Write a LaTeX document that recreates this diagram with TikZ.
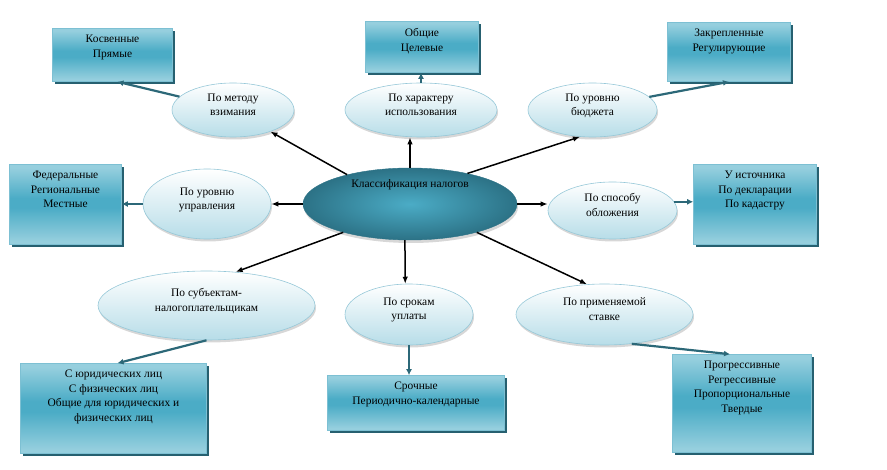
\documentclass[tikz,border=0pt]{standalone}
\usepackage{fontspec}
\setmainfont{Liberation Serif}
\usetikzlibrary{arrows.meta}
\usetikzlibrary{shapes, shadows}

\definecolor{boxlight}{RGB}{150,207,222}
\definecolor{boxmid}{RGB}{75,172,198}
\definecolor{boxline}{RGB}{125,192,211}
\definecolor{boxshadow}{RGB}{38,96,112}
\definecolor{ellbottom}{RGB}{183,221,232}
\definecolor{ellline}{RGB}{150,200,216}
\definecolor{mainin}{RGB}{75,172,198}
\definecolor{mainout}{RGB}{44,114,134}
\definecolor{tealarrow}{RGB}{44,104,120}

\pgfdeclareverticalshading{leafshade}{100bp}{color(0bp)=(boxlight); color(27bp)=(boxlight);
  color(48bp)=(boxmid); color(54bp)=(boxmid); color(73bp)=(boxlight); color(100bp)=(boxlight)}

\tikzset{
  leaf/.style={rectangle, draw=boxline, line width=0.6bp, inner sep=0pt,
    shading=leafshade,
    drop shadow={shadow xshift=2.5bp, shadow yshift=-2.5bp, fill=boxshadow, opacity=1}},
  leaftext/.style={anchor=north, align=center, inner sep=7bp},
  sub/.style={ellipse, draw=ellline, line width=0.6bp, inner sep=0pt, align=center,
    text depth=11bp, top color=white, bottom color=ellbottom,
    drop shadow={shadow xshift=1bp, shadow yshift=-2.5bp, fill=black!45, opacity=0.35}},
  main/.style={ellipse, draw=mainout, line width=0.4bp, inner sep=0pt,
    inner color=mainin, outer color=mainout,
    drop shadow={shadow xshift=1bp, shadow yshift=-3bp, fill=black!45, opacity=0.35}},
  fwd/.style={black, line width=1.5bp, -{Latex[length=7bp,width=5.5bp]}},
  toleaf/.style={tealarrow, line width=2.2bp, -{Latex[length=6bp,width=6bp]}},
}

\begin{document}
\begin{tikzpicture}[font=\fontsize{11.5}{14.5}\selectfont]
\useasboundingbox (0bp,0bp) rectangle (887bp,470bp);
%%
\node (node_klass) at (410bp,266bp) [main,minimum width=214bp,minimum height=72bp,
  label={[yshift=19bp]center:Классификация налогов}] {};
  \node (node_metod) at (233bp,360bp) [sub,minimum width=122bp,minimum height=54bp] {По методу\\взимания};
  \node (node_harakt) at (421bp,360bp) [sub,minimum width=152bp,minimum height=54bp] {По характеру\\использования};
  \node (node_budget) at (592.5bp,360bp) [sub,minimum width=129bp,minimum height=54bp] {По уровню\\бюджета};
  \node (node_upravl) at (207bp,266bp) [sub,minimum width=128bp,minimum height=70bp] {По уровню\\управления};
  \node (node_sposob) at (612.5bp,259.5bp) [sub,minimum width=129bp,minimum height=57bp] {По способу\\обложения};
  \node (node_subj) at (206.5bp,164.5bp) [sub,minimum width=217bp,minimum height=69bp] {По субъектам-\\налогоплательщикам};
  \node (node_srok) at (409bp,155.5bp) [sub,minimum width=128bp,minimum height=61bp] {По срокам\\уплаты};
  \node (node_stavka) at (604.5bp,155.5bp) [sub,minimum width=177bp,minimum height=61bp] {По применяемой\\ставке};
%
  \node (node_kosv) at (112.5bp,415bp) [leaf,minimum width=120bp,minimum height=53bp,
    label={[leaftext]north:{Косвенные\\Прямые}}] {};
  \node (node_obsch) at (422bp,423bp) [leaf,minimum width=113bp,minimum height=51bp,
    label={[leaftext]north:{Общие\\Целевые}}] {};
  \node (node_zakr) at (729bp,418bp) [leaf,minimum width=123bp,minimum height=59bp,
    label={[leaftext]north:{Закрепленные\\Регулирующие}}] {};
  \node (node_feder) at (65.5bp,265.5bp) [leaf,minimum width=112bp,minimum height=80bp,
    label={[leaftext]north:{Федеральные\\Региональные\\Местные}}] {};
  \node (node_istoch) at (755bp,265.5bp) [leaf,minimum width=123bp,minimum height=80bp,
    label={[leaftext]north:{У источника\\По декларации\\По кадастру}}] {};
  \node (node_yurid) at (113.5bp,61.5bp) [leaf,minimum width=186bp,minimum height=90bp,
    label={[leaftext]north:{С юридических лиц\\С физических лиц\\Общие для юридических и\\физических лиц}}] {};
  \node (node_sroch) at (416bp,67bp) [leaf,minimum width=177bp,minimum height=55bp,
    label={[leaftext]north:{Срочные\\Периодично-календарные}}] {};
  \node (node_progr) at (742bp,66.5bp) [leaf,minimum width=139bp,minimum height=98bp,
    label={[leaftext]north:{Прогрессивные\\Регрессивные\\Пропорциональные\\Твердые}}] {};
%
  \draw [fwd] (node_klass.155) -- (node_metod.330);
  \draw [fwd] (node_klass.north) -- (node_klass.north |- node_harakt.south);
  \draw [fwd] (node_klass.28) -- (node_budget.245);
  \draw [fwd] (node_klass.west) -- (node_upravl.east);
  \draw [fwd] (node_klass.east) -- (node_klass.east -| node_sposob.west);
  \draw [fwd] (node_klass.203) -- (node_subj.49);
  \draw [fwd] (node_klass.262) -- (node_srok.97);
  \draw [fwd] (node_klass.337) -- (node_stavka.120);
%
  \draw [toleaf] (node_metod.166) -- ([xshift=5bp]node_kosv.south);
  \draw [toleaf] (node_harakt.north) -- (node_harakt.north |- node_obsch.south);
  \draw [toleaf] (node_budget.13) -- (node_zakr.south);
  \draw [toleaf] (node_upravl.west) -- (node_upravl.west -| node_feder.east);
  \draw [toleaf] (node_sposob.8) -- (node_sposob.8 -| node_istoch.west);
  \draw [toleaf] (node_subj.south) -- ([xshift=4bp]node_yurid.north);
  \draw [toleaf] (node_srok.south) -- (node_srok.south |- node_sroch.north);
  \draw [toleaf] (node_stavka.313) -- ([xshift=-12bp]node_progr.north);
%
\end{tikzpicture}
\end{document}
